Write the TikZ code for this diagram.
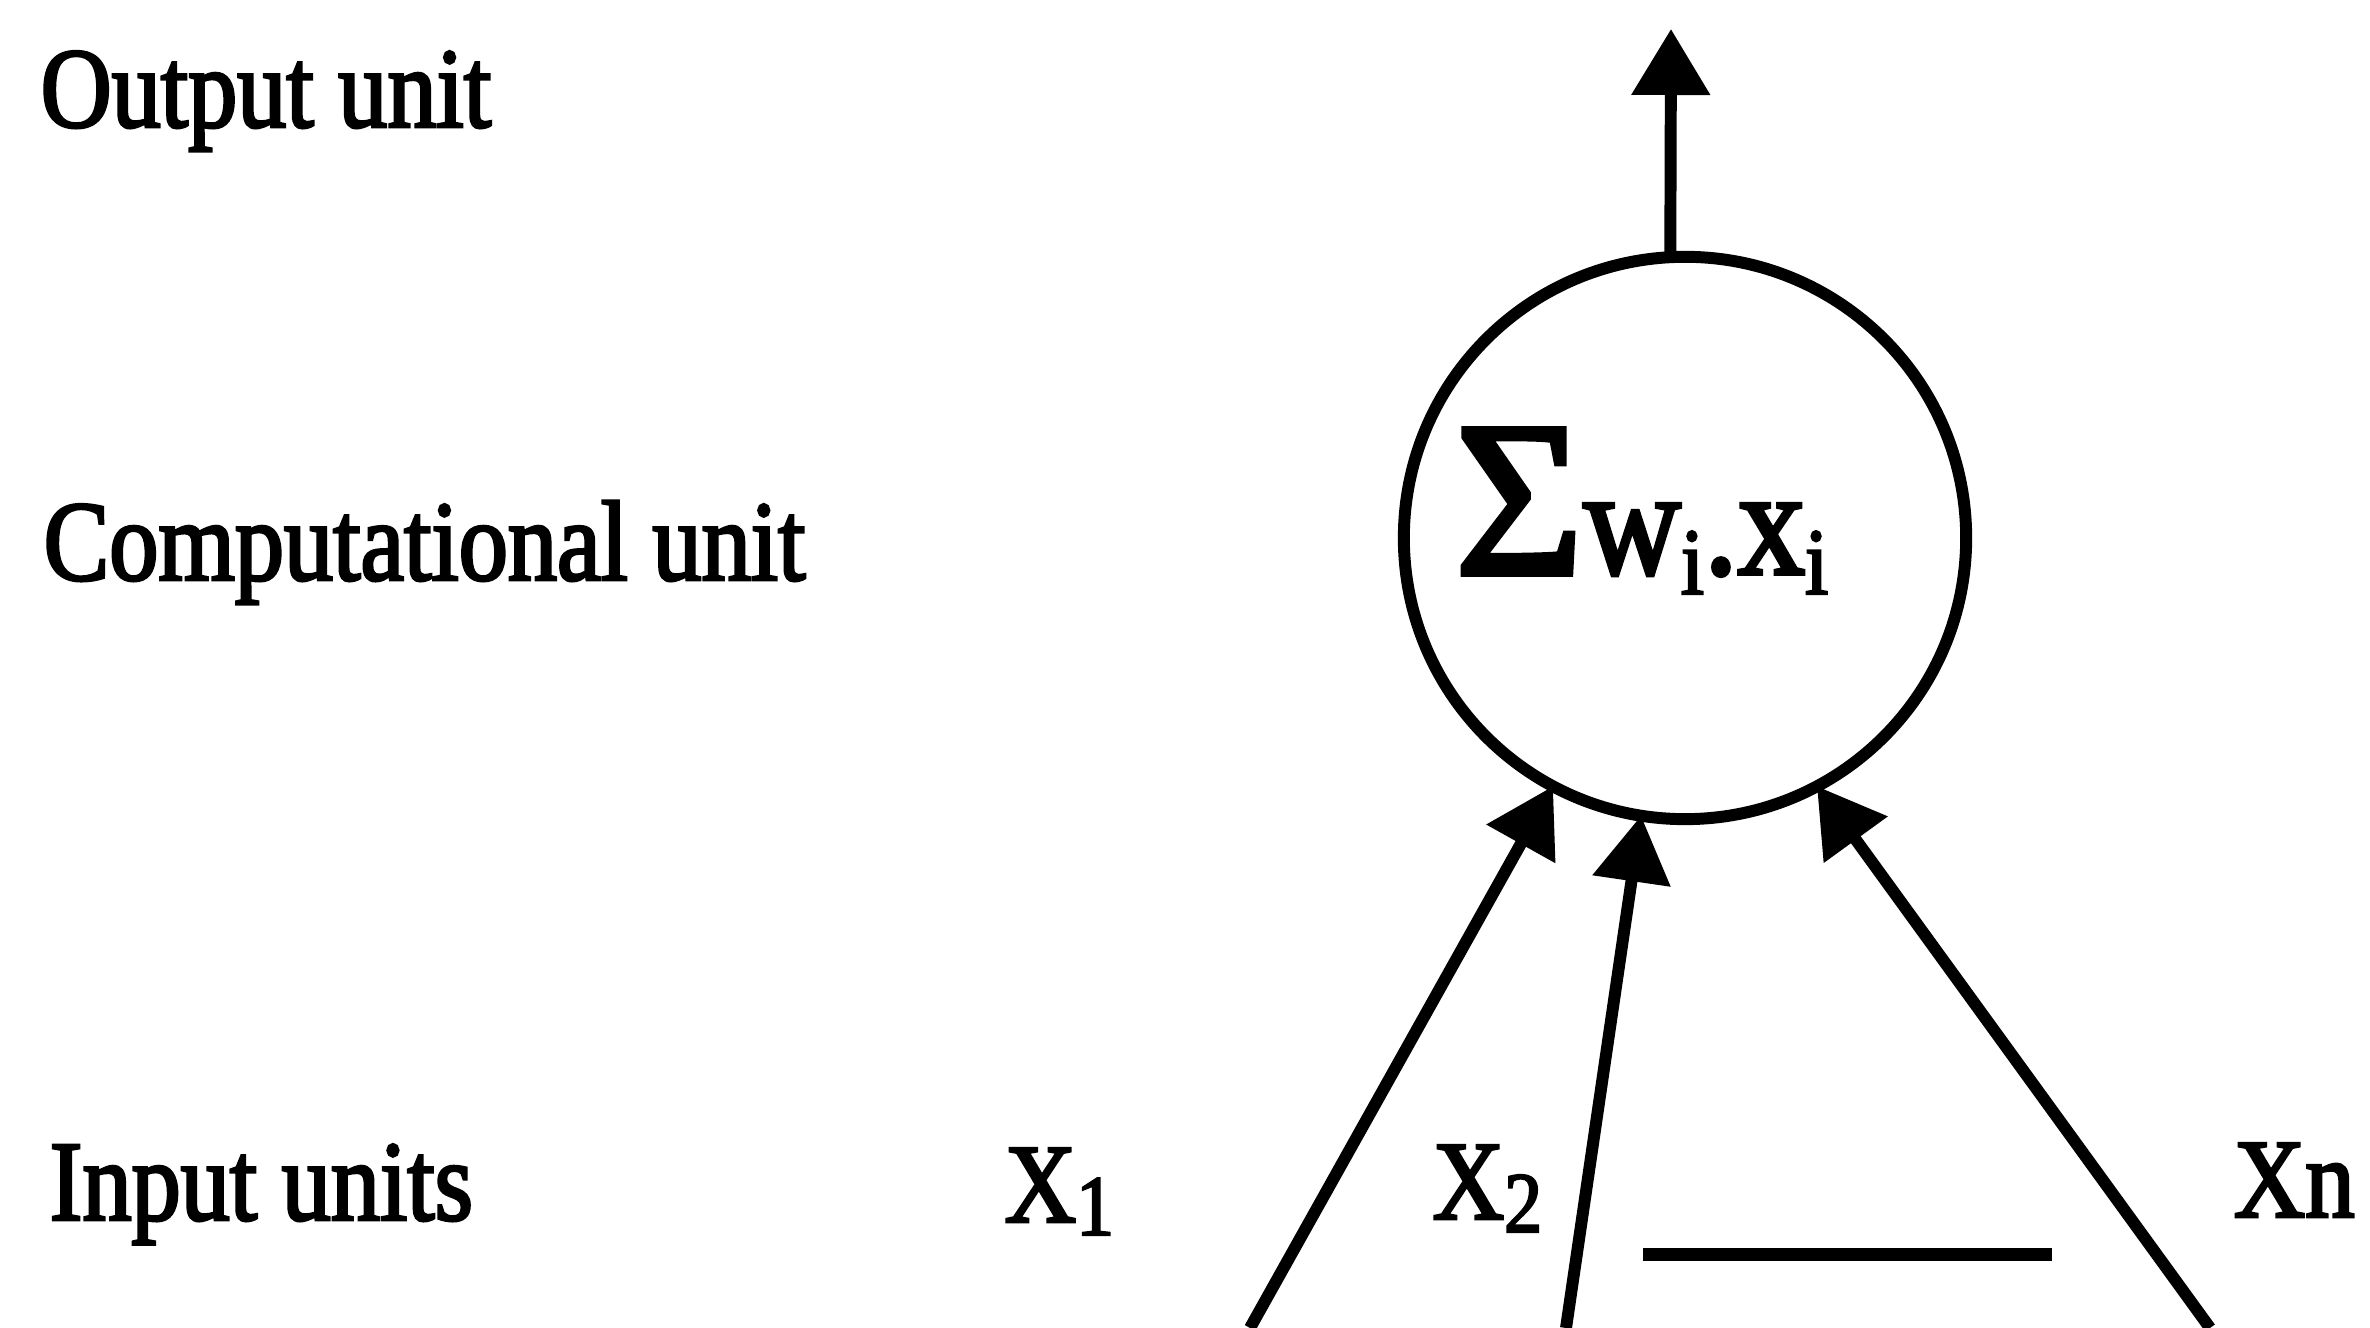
\documentclass[tikz,border=0pt]{standalone}
\usepackage{fontspec}
\setmainfont{Liberation Serif}[FakeStretch=0.88,FakeBold=2.5]
\newfontfamily\sigmafont{Liberation Serif}[FakeBold=2.5]
\newfontfamily\unitfont{Liberation Serif}[FakeStretch=0.86,FakeBold=2.5]
\usetikzlibrary{arrows.meta}

\newcommand{\lowsub}[3]{\raisebox{-#1}{\fontsize{#2}{#2}\selectfont #3}}

\begin{document}
\begin{tikzpicture}[x=0.01cm, y=0.01cm,
    unit/.style={anchor=base west, inner sep=0pt, font=\unitfont\fontsize{32.5}{36}\selectfont},
    inp/.style={anchor=base west, inner sep=0pt, font=\fontsize{32}{36}\selectfont},
    wire/.style={line width=3.4pt, -{Triangle[length=0.66cm, width=0.76cm]}}]
    \useasboundingbox (0,0) rectangle (2370,1328);

    % layer names
    \node[unit] (outlbl) at (40,1201) {Output unit};
    \node[unit] (complbl) at (43,748) {Computational unit};
    \node[unit] (inlbl) at (49,108) {Input units};

    % the neuron
    \node[circle, draw, line width=3.4pt, minimum size=5.62cm, outer sep=0pt] (sum) at (1685,790) {};
    \node[anchor=base west, inner sep=0pt] (sumtxt) at (1454,754)
        {{\sigmafont\fontsize{63}{63}\selectfont Σ}\fontsize{43.5}{44}\selectfont w\lowsub{5.7pt}{27}{i}.x\lowsub{5.7pt}{27}{i}};

    % inputs
    \node[inp] (x1) at (1004,106) {X\lowsub{3.7pt}{24.5}{1}};
    \node[inp] (x2) at (1432,109) {X\lowsub{3.7pt}{24.5}{2}};
    \node[inp] (xn) at (2233,111) {Xn};

    \coordinate (dashL) at (1643,73);
    \coordinate (dashR) at (2052,73);
    \draw[line width=3.7pt] (dashL) -- (dashR);

    \coordinate (in1) at (1250,0);
    \coordinate (in2) at (1566,0);
    \coordinate (inn) at (2210,0);
    \coordinate (out) at (1671,1299);

    \draw[wire] (sum.93) -- (out);
    \draw[wire] (in1) -- (sum.242);
    \draw[wire] (in2) -- (sum.261);
    \draw[wire] (inn) -- (sum.298);
\end{tikzpicture}
\end{document}
